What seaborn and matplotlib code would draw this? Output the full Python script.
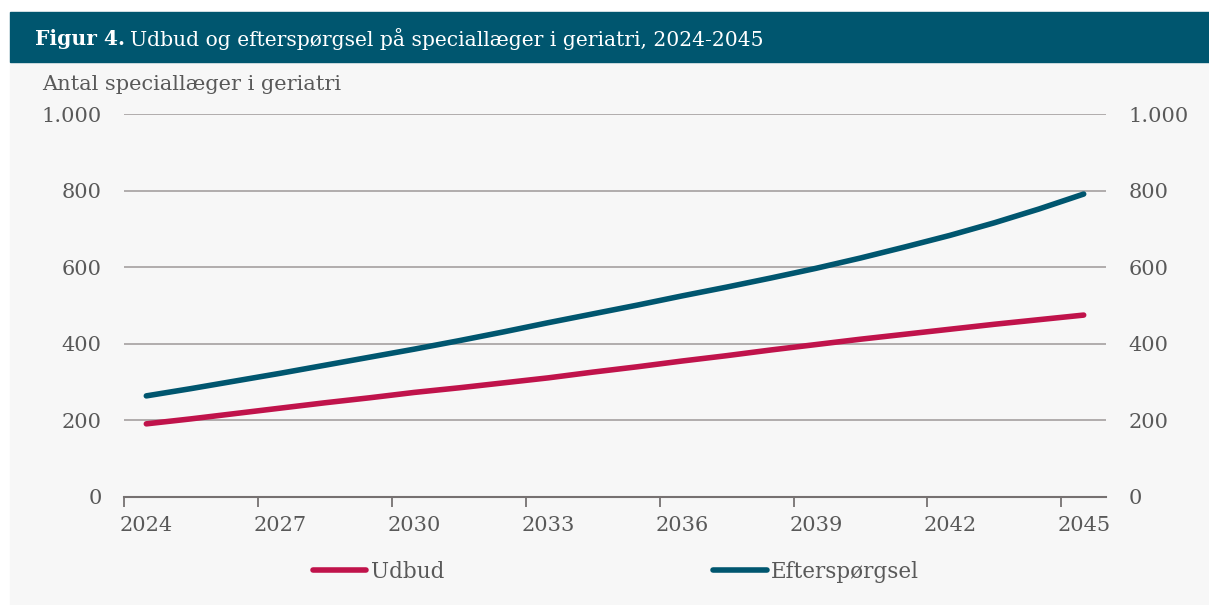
import pandas as pd
import seaborn as sns
import matplotlib.pyplot as plt
from matplotlib.patches import Rectangle
from matplotlib.lines import Line2D
from matplotlib.ticker import FixedLocator, FuncFormatter

# data
years = list(range(2024, 2046))
udbud = [191, 204, 218, 232, 246, 259, 273, 285, 298, 311, 326,
         340, 355, 369, 384, 398, 412, 425, 438, 451, 463, 475]
efterspoergsel = [264, 283, 303, 323, 344, 365, 386, 408, 431, 455, 478,
                  501, 525, 548, 572, 597, 624, 653, 683, 716, 752, 791]
serier = ["Udbud", "Efterspørgsel"]
farver = ["#C0134B", "#00566F"]
x_labels = [2024, 2027, 2030, 2033, 2036, 2039, 2042, 2045]
y_ticks = [0, 200, 400, 600, 800, 1000]

titel_fed = "Figur 4."
titel = "Udbud og efterspørgsel på speciallæger i geriatri, 2024-2045"
y_titel = "Antal speciallæger i geriatri"

df = pd.DataFrame({
    "år": years + years,
    "antal": udbud + efterspoergsel,
    "serie": [serier[0]] * len(years) + [serier[1]] * len(years),
})

sns.set_style("white")
plt.rcParams["font.family"] = ["DejaVu Serif"]
tekst = "#595959"
W, H = 1209, 605
fs = 15

fig = plt.figure(figsize=(W / 100, H / 100), dpi=100)
fig.patch.set_facecolor("white")
fig.patches.append(Rectangle((10 / W, 0), 1, 543 / H, transform=fig.transFigure,
                             color="#F7F7F7", zorder=-10))
fig.patches.append(Rectangle((10 / W, 543 / H), 1, 50 / H, transform=fig.transFigure,
                             color="#00566F", zorder=-10))

ax = fig.add_axes([124 / W, 1 - 497 / H, 982 / W, 383 / H])
ax.set_facecolor("none")

sns.lineplot(data=df, x="år", y="antal", hue="serie",
             palette=dict(zip(serier, farver)), linewidth=4,
             ax=ax, legend=False)
for ln in ax.lines:
    ln.set_solid_capstyle("round")
    ln.set_zorder(3)

ax.set_xlim(2023.5, 2045.5)
ax.set_ylim(0, 1000)
ax.set_xlabel("")
ax.set_ylabel("")

# kategoriakse: streger mellem årene, etiketter midt i
ax.xaxis.set_major_locator(FixedLocator([x - 0.5 for x in x_labels]))
ax.xaxis.set_minor_locator(FixedLocator(x_labels))
ax.xaxis.set_major_formatter(FuncFormatter(lambda v, p: ""))
ax.xaxis.set_minor_formatter(FuncFormatter(lambda v, p: f"{int(v)}"))
ax.tick_params(axis="x", which="major", length=7, width=1.3, color="#767171",
               direction="out", bottom=True)
ax.tick_params(axis="x", which="minor", length=0, pad=14, labelsize=fs,
               labelcolor=tekst)

ax.set_yticks(y_ticks)
ax.yaxis.set_major_formatter(FuncFormatter(lambda v, p: f"{int(v):,}".replace(",", ".")))
ax.tick_params(axis="y", length=0, pad=16, labelsize=fs, labelcolor=tekst,
               labelleft=True, labelright=True)
ax.grid(axis="y", color="#ABA7A7", linewidth=1.3)
ax.grid(axis="x", visible=False)

for s in ["top", "left", "right"]:
    ax.spines[s].set_visible(False)
ax.spines["bottom"].set_color("#767171")
ax.spines["bottom"].set_linewidth(1.5)

fig.text(42 / W, 1 - 85 / H, y_titel, fontsize=fs, color=tekst, va="center")

# titel med fed del
t1 = fig.text(35 / W, 1 - 39 / H, titel_fed, fontsize=14.6, color="white",
              fontweight="bold", va="center")
r = fig.canvas.get_renderer()
bb = t1.get_window_extent(r)
fig.text((bb.x1 + 5) / W, 1 - 39 / H, titel, fontsize=14.6, color="white", va="center")

handles = [Line2D([], [], color=c, lw=4, solid_capstyle="round") for c in farver]
fig.legend(handles, serier, loc="center", bbox_to_anchor=(616 / W, 1 - 572 / H),
           ncol=2, frameon=False, handlelength=2.5, handletextpad=0.2,
           columnspacing=12.5, fontsize=15.5, labelcolor=tekst)

fig.savefig("out.png", dpi=100, facecolor=fig.get_facecolor())
